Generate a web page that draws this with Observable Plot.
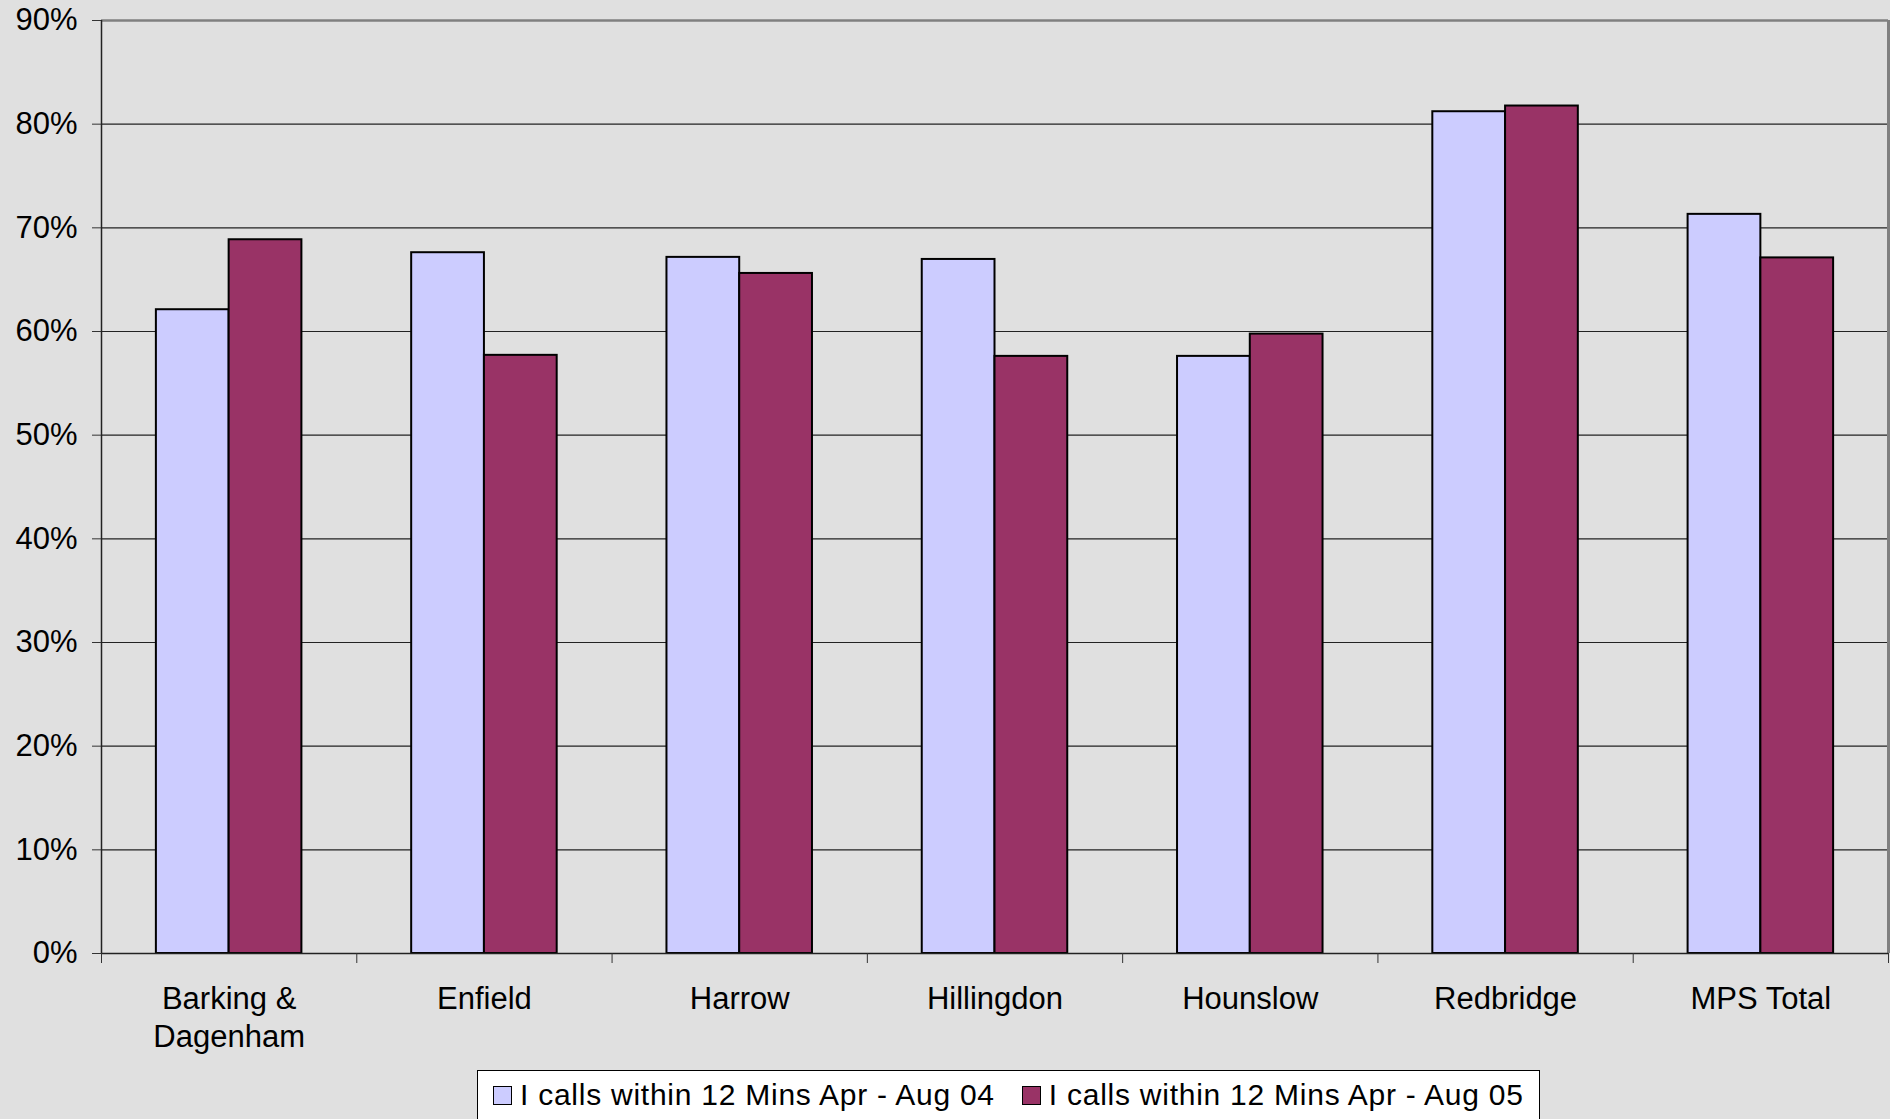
<!DOCTYPE html>
<html><head><meta charset="utf-8">
<script src="https://cdn.jsdelivr.net/npm/d3@7"></script>
<script src="https://cdn.jsdelivr.net/npm/@observablehq/plot@0.6"></script>
<style>
html,body{margin:0;padding:0;background:#e0e0e0;}
body{width:1890px;height:1119px;overflow:hidden;position:relative;font-family:"Liberation Sans",Arial,sans-serif;}
#chart svg{display:block;}
#legend{position:absolute;left:477px;top:1070px;width:1063px;height:70px;background:#fff;border:1px solid #000;box-sizing:border-box;display:flex;align-items:flex-start;padding-top:7px;padding-left:15px;}
.item{display:flex;align-items:center;font-size:30px;letter-spacing:0.75px;color:#000;}
.sw{width:17px;height:17px;border:1.5px solid #000;margin-right:8px;flex:none;}
</style></head><body>
<div id="chart"></div>
<div id="legend"></div>
<script>
const categories = ["Barking &\nDagenham","Enfield","Harrow","Hillingdon","Hounslow","Redbridge","MPS Total"];
const seriesNames = ["I calls within 12 Mins Apr - Aug 04","I calls within 12 Mins Apr - Aug 05"];
const values04 = [0.621, 0.676, 0.6715, 0.6695, 0.576, 0.812, 0.713];
const values05 = [0.6885, 0.577, 0.656, 0.576, 0.5975, 0.8175, 0.671];
const yTicks = [0, 0.1, 0.2, 0.3, 0.4, 0.5, 0.6, 0.7, 0.8, 0.9];
const seriesColors = ["#CCCCFF", "#993366"];

const barW = 0.285;
const rows = [];
categories.forEach((c, i) => {
  rows.push({i, s: 0, series: seriesNames[0], value: values04[i]});
  rows.push({i, s: 1, series: seriesNames[1], value: values05[i]});
});

const plot = Plot.plot({
  width: 1890,
  height: 1070,
  marginLeft: 101,
  marginRight: 2,
  marginTop: 20,
  marginBottom: 117,
  style: {background: "transparent", fontFamily: "'Liberation Sans', Arial, sans-serif", fontSize: "31px", color: "#000"},
  x: {type: "linear", domain: [0, categories.length], label: null},
  y: {domain: [0, 0.9], label: null},
  color: {domain: seriesNames, range: seriesColors},
  marks: [
    Plot.ruleY(yTicks.filter(t => t > 0 && t < 0.9), {stroke: "#000", strokeWidth: 1.2, strokeOpacity: 0.85}),
    Plot.ruleY([0.9], {stroke: "#808080", strokeWidth: 2.5}),
    Plot.ruleX([categories.length], {stroke: "#808080", strokeWidth: 3}),
    Plot.rectY(rows, {
      x1: d => d.i + 0.5 - (d.s === 0 ? barW : 0),
      x2: d => d.i + 0.5 + (d.s === 1 ? barW : 0),
      y: "value",
      fill: "series",
      stroke: "#000",
      strokeWidth: 2
    }),
    Plot.ruleX([0], {stroke: "#222", strokeWidth: 1.5}),
    Plot.ruleY([0], {stroke: "#222", strokeWidth: 1.5}),
    Plot.axisY({ticks: yTicks, tickFormat: d3.format(".0%"), tickSize: 9, tickPadding: 15, fontSize: 31, stroke: "#333"}),
    Plot.axisX({ticks: d3.range(0, categories.length + 1), tickFormat: () => "", tickSize: 10, stroke: "#333"}),
    Plot.axisX({ticks: categories.map((_, i) => i + 0.5), tickFormat: v => categories[Math.floor(v)], tickSize: 0, tickPadding: 28, fontSize: 31, lineHeight: 1.23})
  ]
});
document.getElementById("chart").appendChild(plot);

const legend = document.getElementById("legend");
seriesNames.forEach((name, k) => {
  const item = document.createElement("div");
  item.className = "item";
  if (k > 0) item.style.marginLeft = "27px";
  const sw = document.createElement("div");
  sw.className = "sw";
  sw.style.background = seriesColors[k];
  const tx = document.createElement("span");
  tx.textContent = name;
  item.appendChild(sw);
  item.appendChild(tx);
  legend.appendChild(item);
});
</script>
</body></html>
